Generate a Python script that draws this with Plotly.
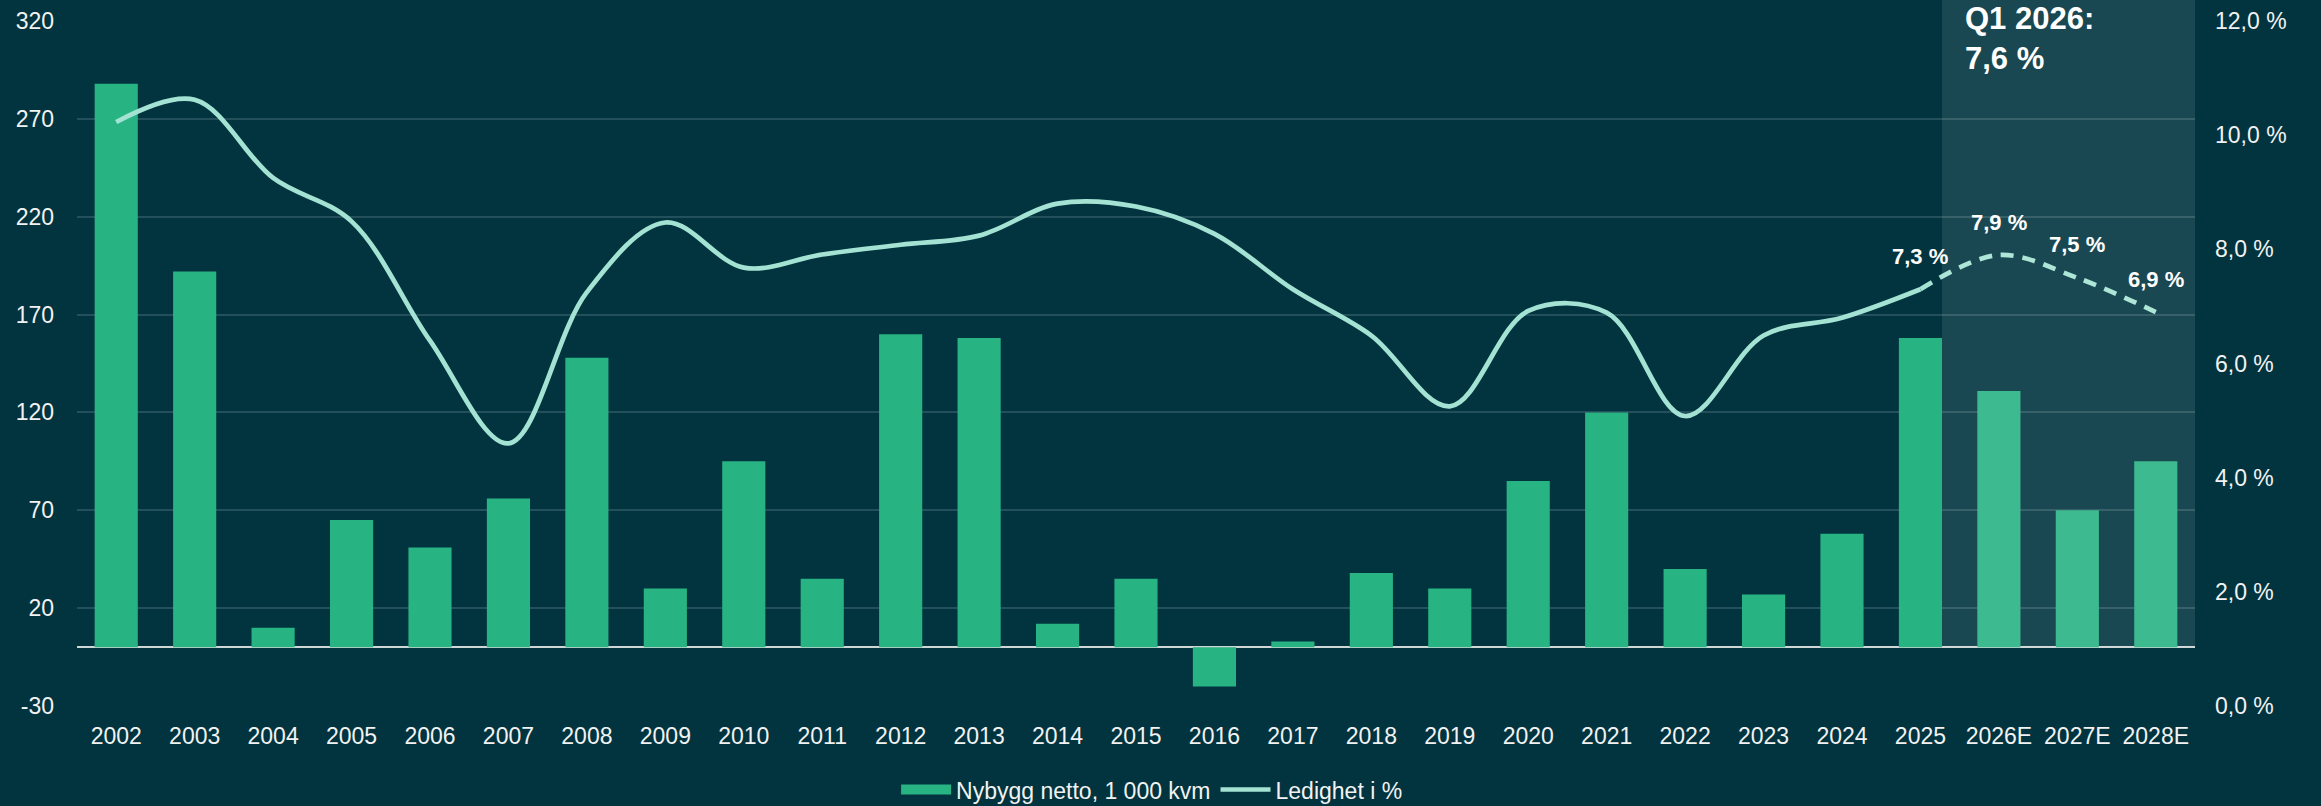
import plotly.graph_objects as go

# categories and values
years = ['2002', '2003', '2004', '2005', '2006', '2007', '2008', '2009', '2010',
         '2011', '2012', '2013', '2014', '2015', '2016', '2017', '2018', '2019',
         '2020', '2021', '2022', '2023', '2024', '2025', '2026E', '2027E', '2028E']

nybygg = [288, 192, 10, 65, 51, 76, 148, 30, 95,
          35, 160, 158, 12, 35, -20, 3, 38, 30,
          85, 120, 40, 27, 58, 158, 131, 70, 95]

ledighet_hist = [10.23, 10.62, 9.25, 8.49, 6.4, 4.6, 7.25, 8.47, 7.68,
                 7.91, 8.08, 8.24, 8.8, 8.75, 8.27, 7.3, 6.49, 5.25,
                 6.92, 6.89, 5.08, 6.49, 6.8, 7.3]
prognose_years = ['2025', '2026E', '2027E', '2028E']
ledighet_prog = [7.3, 7.9, 7.5, 6.9]

left_ticks = [-30, 20, 70, 120, 170, 220, 270, 320]

q1_text = 'Q1 2026:<br>7,6 %'

left_range = [-30, 320]
right_range = [0, 12]

bg = '#01343f'
bar_col = '#28b383'
line_col = '#a4e3d3'
txt = '#f2f2f2'
font = 'Liberation Sans, Arial, sans-serif'
bar_w = 0.55

fig = go.Figure()

fig.add_trace(go.Bar(
    x=years, y=nybygg, name='Nybygg netto, 1 000 kvm',
    marker=dict(color=bar_col, line=dict(width=0)),
    width=bar_w, showlegend=False, legendgroup='bar',
))
# wide legend swatch for the bars
fig.add_trace(go.Scatter(
    x=[None], y=[None], mode='lines', name='Nybygg netto, 1 000 kvm',
    line=dict(color=bar_col, width=13), legendgroup='bar',
))

fig.add_trace(go.Scatter(
    x=years[:len(ledighet_hist)], y=ledighet_hist, yaxis='y2',
    mode='lines', name='Ledighet i %',
    line=dict(color=line_col, width=4.7, shape='spline', smoothing=1),
))

fig.add_trace(go.Scatter(
    x=prognose_years, y=ledighet_prog, yaxis='y2',
    mode='lines', showlegend=False,
    line=dict(color=line_col, width=4.7, shape='spline', smoothing=1,
              dash='13px,9px'),
))

# value labels on the last points (x given as category index)
for yr, v in zip(prognose_years, ledighet_prog):
    fig.add_annotation(
        x=years.index(yr), y=v, yref='y2', text=f'{v:.1f} %'.replace('.', ','),
        showarrow=False, yshift=33,
        font=dict(family=font, size=22, color='white', weight='bold'),
    )

# forecast shading: from the right edge of the 2025 bar to the end
zero_frac = (0 - left_range[0]) / (left_range[1] - left_range[0])
fig.add_shape(
    type='rect', xref='x', yref='paper',
    x0=years.index('2025') + bar_w / 2, x1=len(years) - 0.5,
    y0=zero_frac, y1=1.1,
    fillcolor='rgba(255,255,255,0.1)', line=dict(width=0), layer='above',
)

fig.add_annotation(
    xref='paper', yref='paper', x=0.8903, y=0.975,
    xanchor='left', yanchor='middle', align='left',
    text=q1_text, showarrow=False,
    font=dict(family=font, size=31, color='white', weight='bold'),
)

fig.update_layout(
    width=2321, height=806,
    margin=dict(l=77, r=126, t=21, b=100, autoexpand=False),
    paper_bgcolor=bg, plot_bgcolor=bg,
    separators=', ',
    font=dict(family=font, size=23, color=txt),
    bargap=0.45,
    showlegend=True,
    legend=dict(orientation='h', x=0.5076, xanchor='center',
                y=-0.122, yanchor='middle',
                font=dict(family=font, size=23, color=txt),
                bgcolor='rgba(0,0,0,0)', itemwidth=50),
    xaxis=dict(type='category', range=[-0.5, len(years) - 0.5],
               showgrid=False, showline=False, ticks='',
               ticklabelstandoff=14, automargin=False,
               tickfont=dict(size=23, color=txt)),
    yaxis=dict(range=left_range, tickvals=left_ticks,
               ticktext=[str(t) for t in left_ticks],
               showgrid=True, gridcolor='#23505a', gridwidth=1.5,
               zeroline=True, zerolinecolor='#cfd6d6', zerolinewidth=2,
               showline=False, ticks='', ticklabelstandoff=22,
               automargin=False,
               tickfont=dict(size=23, color=txt)),
    yaxis2=dict(range=right_range, dtick=2, overlaying='y', side='right',
                showgrid=False, zeroline=False, showline=False, ticks='',
                tickformat='.1f', ticksuffix=' %', ticklabelstandoff=19,
                automargin=False,
                tickfont=dict(size=23, color=txt)),
)

# the page body has a default 8px margin; drop it so the figure fills the window
fig.write_html('out.html',
               config={'displayModeBar': False},
               post_script="document.body.style.margin='0';"
                           "document.body.style.background='" + bg + "';")
